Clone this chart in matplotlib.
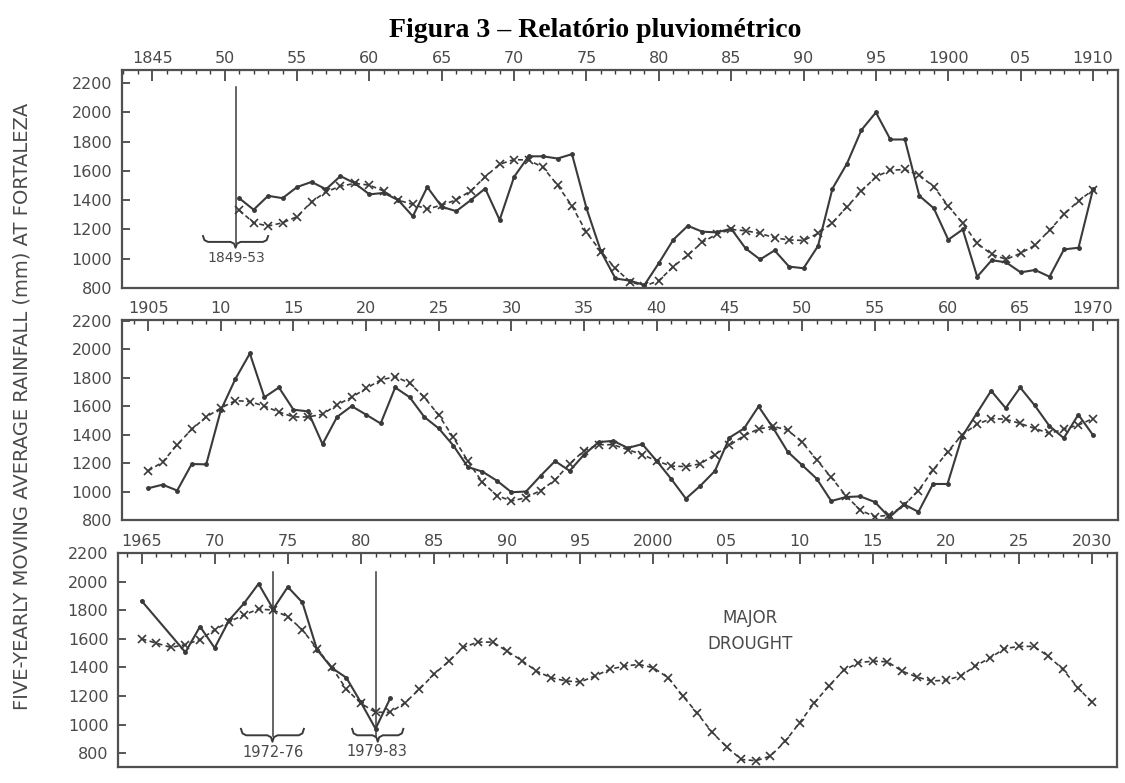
import matplotlib
matplotlib.use("Agg")
import matplotlib.pyplot as plt
from matplotlib.ticker import MultipleLocator, FixedLocator

# ---- data (mm) ----
# panel 1: 1845-1910
p1_obs_years = list(range(1851, 1911))
p1_obs = [1414, 1335, 1430, 1414, 1490, 1525, 1475, 1565, 1515, 1440,
          1450, 1400, 1290, 1490, 1355, 1325, 1400, 1480, 1265, 1560,
          1700, 1700, 1685, 1715, 1345, 1050, 865, 850, 820, 970,
          1130, 1225, 1185, 1180, 1205, 1070, 995, 1057, 946, 935,
          1087, 1480, 1650, 1880, 2000, 1815, 1815, 1430, 1345, 1130,
          1200, 877, 990, 975, 907, 923, 877, 1064, 1075, 1474]
p1_avg_years = list(range(1851, 1911))
p1_avg = [1332, 1246, 1223, 1246, 1287, 1389, 1457, 1496, 1515, 1503,
          1462, 1400, 1371, 1339, 1367, 1402, 1464, 1560, 1646, 1678,
          1674, 1624, 1503, 1360, 1180, 1048, 934, 843, 813, 850,
          946, 1025, 1112, 1168, 1200, 1191, 1173, 1143, 1128, 1125,
          1173, 1246, 1355, 1462, 1560, 1605, 1610, 1571, 1492, 1360,
          1242, 1105, 1030, 996, 1037, 1093, 1196, 1303, 1396, 1469]

# panel 2: 1905-1970
p2_obs_years = list(range(1905, 1971))
p2_obs = [1023, 1048, 1007, 1193, 1191, 1570, 1790, 1970, 1662, 1731,
          1575, 1563, 1333, 1524, 1600, 1540, 1478, 1731, 1662, 1524,
          1443, 1323, 1172, 1140, 1076, 995, 1000, 1110, 1214, 1145,
          1260, 1347, 1356, 1306, 1333, 1214, 1087, 950, 1041, 1145,
          1379, 1443, 1598, 1447, 1280, 1185, 1090, 933, 961, 966,
          926, 819, 910, 857, 1053, 1053, 1386, 1547, 1708, 1586,
          1731, 1605, 1462, 1375, 1540, 1398]
p2_avg_years = list(range(1905, 1971))
p2_avg = [1145, 1207, 1329, 1437, 1524, 1586, 1639, 1632, 1600, 1559,
          1524, 1524, 1543, 1609, 1662, 1724, 1784, 1807, 1761, 1662,
          1536, 1380, 1214, 1064, 972, 933, 957, 1007, 1081, 1195,
          1288, 1329, 1329, 1294, 1260, 1214, 1179, 1175, 1195, 1260,
          1324, 1393, 1439, 1458, 1432, 1346, 1223, 1099, 972, 869,
          823, 834, 903, 1007, 1150, 1278, 1398, 1471, 1512, 1508,
          1478, 1443, 1409, 1437, 1467, 1512]

# panel 3: 1965-2030
p3_obs_years = [1965, 1968, 1969, 1970, 1971, 1972, 1973, 1974, 1975,
                1976, 1977, 1978, 1979, 1980, 1981, 1982]
p3_obs = [1866, 1506, 1686, 1536, 1732, 1847, 1985, 1808, 1963,
          1854, 1524, 1397, 1328, 1155, 971, 1183]
p3_avg_years = list(range(1965, 2031))
p3_avg = [1600, 1570, 1540, 1559, 1594, 1663, 1720, 1767, 1808, 1801,
          1755, 1663, 1531, 1402, 1248, 1148, 1086, 1086, 1151, 1248,
          1352, 1443, 1540, 1577, 1577, 1513, 1448, 1374, 1328, 1305,
          1298, 1340, 1386, 1409, 1421, 1397, 1328, 1201, 1079, 947,
          844, 756, 747, 780, 882, 1014, 1152, 1271, 1379, 1432,
          1444, 1439, 1374, 1333, 1305, 1310, 1340, 1409, 1466, 1531,
          1547, 1547, 1478, 1386, 1259, 1155]

p1_ticks = ["1845", "50", "55", "60", "65", "70", "75", "80", "85", "90",
            "95", "1900", "05", "1910"]
p2_ticks = ["1905", "10", "15", "20", "25", "30", "35", "40", "45", "50",
            "55", "60", "65", "1970"]
p3_ticks = ["1965", "70", "75", "80", "85", "90", "95", "2000", "05", "10",
            "15", "20", "25", "2030"]
y_ticks = [800, 1000, 1200, 1400, 1600, 1800, 2000, 2200]

INK = "#3a3a3a"
TXT = "#4a4a4a"


def brace(ax, x0, x1, y, h):
    # curly brace with the tip pointing down
    xc = (x0 + x1) / 2
    xs = [x0, x0 + 0.1, x0 + 0.35, xc - 0.35, xc - 0.1, xc, xc + 0.1, xc + 0.35,
          x1 - 0.35, x1 - 0.1, x1]
    ys = [y + h, y + 0.3 * h, y, y, y - 0.3 * h, y - h, y - 0.3 * h, y,
          y, y + 0.3 * h, y + h]
    ax.plot(xs, ys, color=INK, lw=1.4)


def setup(ax, first, labels, xlim, ylim):
    ax.set_xlim(*xlim)
    ax.set_ylim(*ylim)
    ax.xaxis.tick_top()
    ax.xaxis.set_major_locator(FixedLocator(range(first, first + 66, 5)))
    ax.xaxis.set_minor_locator(MultipleLocator(1))
    ax.set_xticklabels(labels)
    ax.set_yticks(y_ticks)
    ax.set_yticklabels([str(v) for v in y_ticks])
    ax.tick_params(axis="x", which="major", direction="in", length=8, width=1.2,
                   colors=INK, labelcolor=TXT, labelsize=11.5, pad=3)
    ax.tick_params(axis="x", which="minor", direction="in", length=3, width=1.0,
                   colors=INK)
    ax.tick_params(axis="y", direction="in", length=6, width=1.2, colors=INK,
                   labelcolor=TXT, labelsize=11.5, pad=7)
    for s in ax.spines.values():
        s.set_color("#505050")
        s.set_linewidth(1.6)


def draw(ax, oy, ov, ay, av):
    ax.plot(oy, ov, color=INK, lw=1.5, marker="o", ms=2.5)
    ax.plot(ay, av, color=INK, lw=1.2, ls=(0, (3, 2)), marker="x", ms=6,
            mew=1.2)


fig = plt.figure(figsize=(11.25, 7.83), dpi=100)

ax1 = fig.add_axes([0.1084, 0.6322, 0.885, 0.2784])
ax2 = fig.add_axes([0.1084, 0.3359, 0.885, 0.2554])
ax3 = fig.add_axes([0.1050, 0.0204, 0.888, 0.2733])

setup(ax1, 1845, p1_ticks, (1842.9, 1911.7), (800, 2290))
setup(ax2, 1905, p2_ticks, (1903.2, 1971.7), (800, 2205))
setup(ax3, 1965, p3_ticks, (1963.4, 2031.7), (703, 2190))

draw(ax1, p1_obs_years, p1_obs, p1_avg_years, p1_avg)
draw(ax2, p2_obs_years, p2_obs, p2_avg_years, p2_avg)
draw(ax3, p3_obs_years, p3_obs, p3_avg_years, p3_avg)

# annotations panel 1
ax1.plot([1850.8, 1850.8], [2172, 1110], color=INK, lw=1.1)
brace(ax1, 1848.5, 1853.0, 1115, 40)
ax1.text(1850.8, 1005, "1849-53", ha="center", va="center", fontsize=10,
         color=TXT)

# annotations panel 3
ax3.plot([1974, 1974], [2066, 920], color=INK, lw=1.1)
brace(ax3, 1971.8, 1976.1, 925, 45)
ax3.text(1974, 805, "1972-76", ha="center", va="center", fontsize=10.5,
         color=TXT)
ax3.plot([1981, 1981], [2066, 920], color=INK, lw=1.1)
brace(ax3, 1979.4, 1982.9, 925, 45)
ax3.text(1981.1, 815, "1979-83", ha="center", va="center", fontsize=10.5,
         color=TXT)
ax3.text(2006.6, 1655, "MAJOR\nDROUGHT", ha="center", va="center",
         fontsize=12, color=TXT, linespacing=1.6)

fig.text(0.0196, 0.4815, "FIVE-YEARLY MOVING AVERAGE RAINFALL (mm) AT FORTALEZA",
         rotation=90, ha="center", va="center", fontsize=14, color=TXT)
fig.text(0.529, 0.9527, "Figura 3 \u2013 Relatório pluviométrico",
         ha="center", va="baseline", fontsize=20, fontweight="bold",
         family="Liberation Serif", color="black")

fig.savefig("out.png", dpi=100, facecolor="white")
